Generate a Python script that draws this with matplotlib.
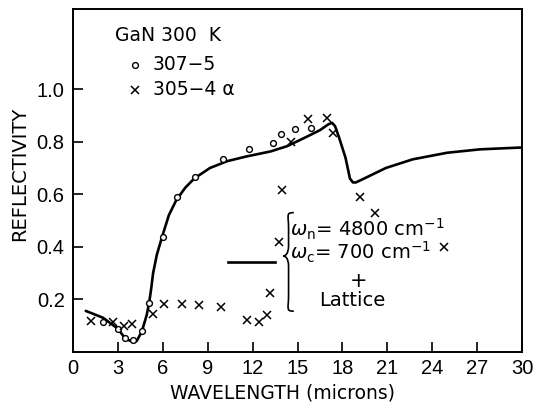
import matplotlib
matplotlib.use("Agg")
import matplotlib.pyplot as plt
from matplotlib.path import Path
from matplotlib.patches import PathPatch

plt.rcParams['font.family'] = ['DejaVu Sans']

# Sample 307-5 (open circles)
x_307 = [2.0, 3.0, 3.5, 4.0, 4.6, 5.08, 6.0, 6.97, 8.13, 10.0, 11.77, 13.34, 13.9, 14.85, 15.92]
r_307 = [0.114, 0.086, 0.054, 0.044, 0.081, 0.185, 0.436, 0.588, 0.666, 0.733, 0.771, 0.796, 0.830, 0.847, 0.852]

# Sample 305-4 alpha (crosses)
x_305 = [1.18, 2.69, 3.42, 3.96, 5.32, 6.1, 7.25, 8.44, 9.87, 11.64, 12.42, 12.98, 13.16,
         13.75, 13.96, 14.58, 15.68, 17.0, 17.39, 19.17, 20.17, 24.8]
r_305 = [0.118, 0.112, 0.100, 0.108, 0.145, 0.182, 0.184, 0.180, 0.171, 0.122, 0.113, 0.139, 0.225,
         0.420, 0.617, 0.800, 0.886, 0.891, 0.835, 0.590, 0.530, 0.401]

# Model: plasma (wn = 4800 cm-1, wc = 700 cm-1) + lattice
x_fit = [0.85, 2.0, 3.0, 3.5, 3.95, 4.25, 4.6, 4.92, 5.08, 5.22, 5.35, 5.6, 5.95, 6.4, 6.9,
         7.5, 8.1, 9.15, 10.3, 11.6, 13.2, 14.3, 15.4, 16.5, 17.05, 17.3, 17.5, 17.75, 18.2,
         18.5, 18.7, 18.9, 19.6, 20.9, 22.7, 25.0, 27.2, 30.0]
r_fit = [0.156, 0.130, 0.088, 0.050, 0.039, 0.041, 0.078, 0.140, 0.185, 0.240, 0.300, 0.370,
         0.438, 0.520, 0.578, 0.625, 0.660, 0.700, 0.726, 0.744, 0.763, 0.783, 0.813, 0.844,
         0.866, 0.872, 0.860, 0.820, 0.740, 0.660, 0.645, 0.645, 0.664, 0.700, 0.733, 0.758,
         0.771, 0.778]

x_ticks = [0, 3, 6, 9, 12, 15, 18, 21, 24, 27, 30]
y_ticks = [0.2, 0.4, 0.6, 0.8, 1.0]

fig = plt.figure(figsize=(5.41, 4.04), dpi=100)
ax = fig.add_axes([0.135, 0.129, 0.83, 0.848])

ax.plot(x_fit, r_fit, color='black', lw=1.9, solid_capstyle='round', solid_joinstyle='round')
ax.plot(x_307, r_307, linestyle='none', marker='o', ms=4.2, mfc='white', mec='black', mew=1.0)
ax.plot(x_305, r_305, linestyle='none', marker='x', ms=5.5, color='black', mew=1.1)

ax.set_xlim(0, 30)
ax.set_ylim(0, 1.304)
ax.set_xticks(x_ticks)
ax.set_xticklabels([str(t) for t in x_ticks], family='Liberation Sans', fontsize=14.5)
ax.set_yticks(y_ticks)
ax.set_yticklabels([f"{t:.1f}" for t in y_ticks], family='Liberation Sans', fontsize=14.5)
ax.tick_params(direction='in', length=7, width=1.2, pad=5)
ax.tick_params(axis='y', pad=6)
for s in ax.spines.values():
    s.set_linewidth(1.4)

ax.set_xlabel("WAVELENGTH (microns)", fontsize=13.5)
ax.set_ylabel("REFLECTIVITY", fontsize=14)
ax.xaxis.set_label_coords(0.466, -0.093)
ax.yaxis.set_label_coords(-0.097, 0.52)

# key in the upper left
ax.text(2.8, 1.206, "GaN 300  K", fontsize=13.5, va='center', ha='left')
ax.plot([4.14], [1.093], linestyle='none', marker='o', ms=4.2, mfc='white', mec='black', mew=1.0)
ax.text(5.34, 1.093, "307\u22125", fontsize=13.5, va='center', ha='left')
ax.plot([4.14], [0.998], linestyle='none', marker='x', ms=5.5, color='black', mew=1.1)
ax.text(5.34, 0.998, "305\u22124 \u03b1", fontsize=13.5, va='center', ha='left')

# model key: sample line plus brace with parameters
ax.plot([10.35, 13.49], [0.343, 0.343], color='black', lw=1.9)

bx0, bx1 = 14.05, 14.75
by_top, by_mid, by_bot = 0.53, 0.365, 0.155
verts = [(bx1, by_top), (bx0 + 0.15, by_top), (bx0 + 0.35, by_top - 0.01), (bx0 + 0.35, by_top - 0.06),
         (bx0 + 0.35, by_mid + 0.04),
         (bx0 + 0.35, by_mid + 0.005), (bx0 + 0.1, by_mid), (bx0, by_mid),
         (bx0 + 0.1, by_mid), (bx0 + 0.35, by_mid - 0.005), (bx0 + 0.35, by_mid - 0.04),
         (bx0 + 0.35, by_bot + 0.06),
         (bx0 + 0.35, by_bot + 0.01), (bx0 + 0.15, by_bot), (bx1, by_bot)]
codes = [Path.MOVETO, Path.CURVE4, Path.CURVE4, Path.CURVE4, Path.LINETO,
         Path.CURVE4, Path.CURVE4, Path.CURVE4,
         Path.CURVE4, Path.CURVE4, Path.CURVE4, Path.LINETO,
         Path.CURVE4, Path.CURVE4, Path.CURVE4]
ax.add_patch(PathPatch(Path(verts, codes), fill=False, lw=1.2, color='black'))

ax.text(14.5, 0.468, r"$\omega_{\rm n}$= 4800 cm$^{-1}$", fontsize=14, va='center', ha='left')
ax.text(14.5, 0.380, r"$\omega_{\rm c}$= 700 cm$^{-1}$", fontsize=14, va='center', ha='left')
ax.text(19.05, 0.270, "+", fontsize=15, va='center', ha='center')
ax.text(18.65, 0.195, "Lattice", fontsize=14, va='center', ha='center')

fig.savefig("out.png", dpi=100)
